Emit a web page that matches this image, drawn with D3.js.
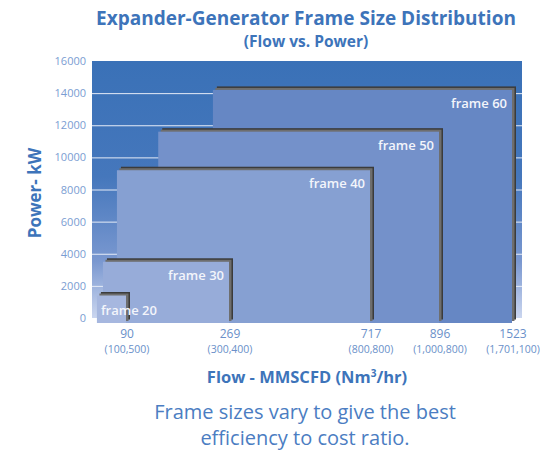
<!DOCTYPE html>
<html>
<head>
    <meta charset="utf-8" />
    <style>
        body { margin: 0; background: #ffffff; }
        svg { display: block; font-family: "Open Sans", sans-serif; }
    </style>
</head>
<body>
<div id="chart"></div>
<script src="https://cdnjs.cloudflare.com/ajax/libs/d3/7.8.5/d3.min.js"></script>
<script>
    // chart values
    var frameNames = ["frame 20", "frame 30", "frame 40", "frame 50", "frame 60"];
    var frameFlow = [90, 269, 717, 896, 1523];          // max flow, MMSCFD
    var frameMinFlow = [13, 29, 66, 146, 241];          // left edge of each frame
    var framePower = [1400, 3500, 9200, 11600, 14200];  // kW
    var flowLabels = ["90", "269", "717", "896", "1523"];
    var nm3Labels = ["(100,500)", "(300,400)", "(800,800)", "(1,000,800)", "(1,701,100)"];
    var powerTicks = [0, 2000, 4000, 6000, 8000, 10000, 12000, 14000, 16000];

    var frameColors = ["#a6b7df", "#97acd9", "#86a0d2", "#7491ca", "#6687c4"];

    (function(d3) {
        'use strict';

        var width = 540;
        var height = 454;

        var svg = d3.select('#chart')
            .append('svg')
            .attr('width', width)
            .attr('height', height);

        var plotLeft = 92, plotRight = 522, plotTop = 61, plotBottom = 318;

        // flow axis is not linear in the original, so use a piecewise scale
        var x = d3.scaleLinear()
            .domain([0].concat(frameFlow))
            .range([plotLeft, 126, 229, 370, 439, 512]);

        var y = d3.scaleLinear()
            .domain([0, 16000])
            .range([plotBottom, plotTop]);

        var defs = svg.append('defs');
        var bg = defs.append('linearGradient')
            .attr('id', 'bgGrad')
            .attr('x1', 0).attr('y1', 0).attr('x2', 0).attr('y2', 1);
        bg.append('stop').attr('offset', '0%').attr('stop-color', '#3a71b7');
        bg.append('stop').attr('offset', '45%').attr('stop-color', '#4577bc');
        bg.append('stop').attr('offset', '78%').attr('stop-color', '#7a98d0');
        bg.append('stop').attr('offset', '100%').attr('stop-color', '#cbd6ef');

        // titles
        svg.append('text')
            .attr('x', 306).attr('y', 25)
            .attr('text-anchor', 'middle')
            .style('font-size', '19px').style('font-weight', 700)
            .style('fill', '#3d74ba')
            .text('Expander-Generator Frame Size Distribution');

        svg.append('text')
            .attr('x', 306).attr('y', 47)
            .attr('text-anchor', 'middle')
            .style('font-size', '15.5px').style('font-weight', 700)
            .style('fill', '#3d74ba')
            .text('(Flow vs. Power)');

        // plot background
        svg.append('rect')
            .attr('x', plotLeft).attr('y', plotTop)
            .attr('width', plotRight - plotLeft)
            .attr('height', plotBottom - plotTop)
            .attr('fill', 'url(#bgGrad)');

        svg.selectAll('.grid')
            .data(powerTicks.slice(1, -1))
            .enter()
            .append('line')
            .attr('class', 'grid')
            .attr('x1', plotLeft).attr('x2', plotRight)
            .attr('y1', function(d) { return y(d) + 0.5; })
            .attr('y2', function(d) { return y(d) + 0.5; })
            .attr('stroke', '#e6ecf7')
            .attr('stroke-width', 1);

        // y axis
        var yAxis = svg.append('g')
            .attr('transform', 'translate(' + (plotLeft - 6) + ',0)')
            .call(d3.axisLeft(y).tickValues(powerTicks).tickFormat(d3.format('d'))
                .tickSize(0).tickPadding(0));
        yAxis.select('.domain').remove();
        yAxis.selectAll('text')
            .style('font-family', '"Open Sans", sans-serif')
            .style('font-size', '11px')
            .style('fill', '#7a9dd2');

        svg.append('text')
            .attr('transform', 'translate(41,193) rotate(-90)')
            .attr('text-anchor', 'middle')
            .style('font-size', '17px').style('font-weight', 700)
            .style('fill', '#3d74ba')
            .text('Power- kW');

        // frames, biggest first so the small ones sit on top
        var order = d3.range(frameNames.length).reverse();
        var floor = 5;

        var frames = svg.selectAll('.frame')
            .data(order)
            .enter()
            .append('g')
            .attr('class', 'frame');

        function fx(i) { return x(frameMinFlow[i]); }
        function fw(i) { return x(frameFlow[i]) - x(frameMinFlow[i]); }
        function fy(i) { return y(framePower[i]); }
        function fh(i) { return y(0) + floor - y(framePower[i]); }

        frames.append('rect')
            .attr('x', function(i) { return fx(i) + 4; })
            .attr('y', function(i) { return fy(i) - 3.5; })
            .attr('width', fw)
            .attr('height', fh)
            .attr('fill', '#3b3b3b');

        frames.append('rect')
            .attr('x', function(i) { return fx(i) + 2.5; })
            .attr('y', function(i) { return fy(i) - 2; })
            .attr('width', fw)
            .attr('height', fh)
            .attr('fill', '#6e6e6e');

        frames.append('rect')
            .attr('x', fx)
            .attr('y', fy)
            .attr('width', fw)
            .attr('height', fh)
            .attr('fill', function(i) { return frameColors[i]; });

        frames.append('text')
            .attr('x', function(i) { return i === 0 ? fx(i) + 4 : fx(i) + fw(i) - 5; })
            .attr('y', function(i) { return i === 0 ? y(0) - 3 : fy(i) + 18; })
            .attr('text-anchor', function(i) { return i === 0 ? 'start' : 'end'; })
            .style('font-size', '13px').style('font-weight', 600)
            .style('fill', '#f3f5fb')
            .text(function(i) { return frameNames[i]; });

        // x tick labels
        var xt = svg.selectAll('.xtick')
            .data(d3.range(frameFlow.length))
            .enter()
            .append('g')
            .attr('class', 'xtick')
            .attr('transform', function(i) { return 'translate(' + (x(frameFlow[i]) + 1) + ',0)'; });

        xt.append('text')
            .attr('y', 338)
            .attr('text-anchor', 'middle')
            .style('font-size', '12px')
            .style('fill', '#6a90c9')
            .text(function(i) { return flowLabels[i]; });

        xt.append('text')
            .attr('y', 353)
            .attr('text-anchor', 'middle')
            .style('font-size', '10.5px')
            .style('fill', '#6a90c9')
            .text(function(i) { return nm3Labels[i]; });

        var xTitle = svg.append('text')
            .attr('x', 307).attr('y', 383)
            .attr('text-anchor', 'middle')
            .style('font-size', '16.5px').style('font-weight', 700)
            .style('fill', '#3d74ba');
        xTitle.append('tspan').text('Flow - MMSCFD (Nm');
        xTitle.append('tspan').text('3').attr('dy', -6).style('font-size', '10px');
        xTitle.append('tspan').text('/hr)').attr('dy', 6);

        // footnote
        svg.append('text')
            .attr('x', 305).attr('y', 419)
            .attr('text-anchor', 'middle')
            .style('font-size', '20px')
            .style('fill', '#4b7dc2')
            .text('Frame sizes vary to give the best');

        svg.append('text')
            .attr('x', 305).attr('y', 445)
            .attr('text-anchor', 'middle')
            .style('font-size', '20px')
            .style('fill', '#4b7dc2')
            .text('efficiency to cost ratio.');

    })(window.d3);
</script>
</body>
</html>
